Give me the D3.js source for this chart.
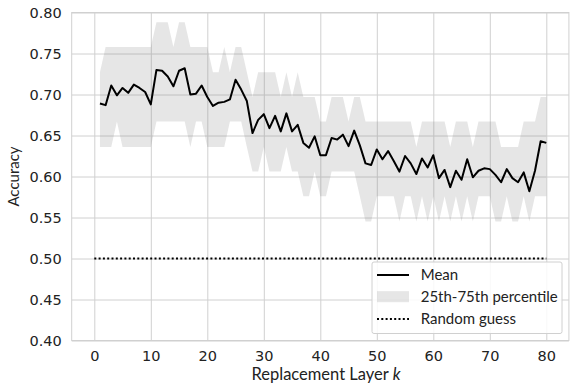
<!DOCTYPE html>
<html>
<head>
<meta charset="utf-8">
<script src="https://cdn.jsdelivr.net/npm/d3@7"></script>
<style>
  body { margin: 0; background: #fff; }
  svg { display: block; }
  .tick text { font-family: "DejaVu Sans", sans-serif; font-size: 14.5px; fill: #222; }
  .lab { font-family: Lato, "Open Sans", sans-serif; font-size: 15px; fill: #222; }
  .xlab { font-size: 16.5px; }
</style>
</head>
<body>
<div id="chart"></div>
<script>
// replacement layer k
var layers = [1,2,3,4,5,6,7,8,9,10,11,12,13,14,15,16,17,18,19,20,
  21,22,23,24,25,26,27,28,29,30,31,32,33,34,35,36,37,38,39,40,
  41,42,43,44,45,46,47,48,49,50,51,52,53,54,55,56,57,58,59,60,
  61,62,63,64,65,66,67,68,69,70,71,72,73,74,75,76,77,78,79,80];

// mean accuracy per layer
var meanAcc = [0.689,0.687,0.711,0.699,0.708,0.702,0.712,0.708,0.703,0.688,
  0.730,0.729,0.722,0.710,0.729,0.732,0.700,0.701,0.711,0.697,
  0.686,0.690,0.691,0.694,0.718,0.706,0.692,0.653,0.669,0.676,
  0.659,0.674,0.655,0.677,0.655,0.663,0.641,0.635,0.649,0.626,
  0.626,0.647,0.645,0.651,0.637,0.656,0.638,0.616,0.614,0.633,
  0.621,0.631,0.619,0.606,0.625,0.616,0.603,0.622,0.611,0.626,
  0.598,0.608,0.587,0.607,0.596,0.621,0.599,0.607,0.610,0.609,
  0.602,0.593,0.609,0.598,0.593,0.605,0.582,0.607,0.643,0.641];

// 25th percentile
var p25 = [0.636,0.636,0.636,0.667,0.636,0.636,0.636,0.636,0.636,0.636,
  0.667,0.667,0.667,0.667,0.667,0.667,0.636,0.667,0.667,0.636,
  0.636,0.636,0.636,0.667,0.667,0.667,0.636,0.606,0.606,0.636,
  0.606,0.606,0.606,0.636,0.606,0.606,0.576,0.576,0.606,0.576,
  0.576,0.606,0.606,0.606,0.606,0.606,0.576,0.545,0.545,0.576,
  0.576,0.576,0.576,0.545,0.576,0.576,0.545,0.576,0.545,0.576,
  0.545,0.576,0.545,0.576,0.545,0.576,0.545,0.576,0.576,0.576,
  0.545,0.545,0.576,0.545,0.545,0.576,0.545,0.576,0.576,0.576];

// 75th percentile
var p75 = [0.727,0.758,0.758,0.758,0.758,0.758,0.758,0.758,0.758,0.758,
  0.788,0.788,0.788,0.758,0.788,0.788,0.758,0.758,0.758,0.758,
  0.727,0.727,0.758,0.727,0.758,0.758,0.727,0.697,0.727,0.727,
  0.727,0.727,0.697,0.727,0.697,0.727,0.697,0.697,0.697,0.667,
  0.667,0.697,0.697,0.697,0.667,0.697,0.697,0.667,0.667,0.667,
  0.667,0.667,0.667,0.667,0.667,0.667,0.636,0.667,0.667,0.667,
  0.667,0.667,0.636,0.667,0.667,0.667,0.636,0.667,0.667,0.667,
  0.667,0.636,0.636,0.636,0.636,0.667,0.667,0.667,0.697,0.697];

// random guess baseline
var guessLayers = [0, 80];
var guessAcc = 0.5;

var xTicks = [0,10,20,30,40,50,60,70,80];
var yTicks = [0.40,0.45,0.50,0.55,0.60,0.65,0.70,0.75,0.80];
var legendLabels = ["Mean", "25th-75th percentile", "Random guess"];

function draw() {
  var W = 570, H = 385;
  var pl = 71.7, pr = 568.9, pt = 12.5, pb = 340.5;

  var svg = d3.select("#chart").append("svg")
      .attr("width", W)
      .attr("height", H);

  var x = d3.scaleLinear().domain([-4, 84]).range([pl, pr]);
  var y = d3.scaleLinear().domain([0.4, 0.8]).range([pb, pt]);

  // grid + tick labels
  svg.append("g")
      .attr("transform", "translate(0," + pb + ")")
      .call(d3.axisBottom(x).tickValues(xTicks).tickFormat(d3.format("d"))
          .tickSizeInner(-(pb - pt)).tickSizeOuter(0).tickPadding(10.5));
  svg.append("g")
      .attr("transform", "translate(" + pl + ",0)")
      .call(d3.axisLeft(y).tickValues(yTicks).tickFormat(d3.format(".2f"))
          .tickSizeInner(-(pr - pl)).tickSizeOuter(0).tickPadding(10));
  svg.selectAll(".domain").remove();
  svg.selectAll(".tick line").attr("stroke", "#d0d0d0").attr("stroke-width", 1);

  // frame
  svg.append("rect")
      .attr("x", pl).attr("y", pt)
      .attr("width", pr - pl).attr("height", pb - pt)
      .attr("fill", "none").attr("stroke", "#d0d0d0").attr("stroke-width", 1);

  // percentile band
  var area = d3.area()
      .x(function(d, i) { return x(layers[i]); })
      .y0(function(d, i) { return y(p25[i]); })
      .y1(function(d, i) { return y(p75[i]); });
  svg.append("path")
      .datum(layers)
      .attr("d", area)
      .attr("fill", "#808080")
      .attr("fill-opacity", 0.2);

  // mean line
  var line = d3.line()
      .x(function(d, i) { return x(layers[i]); })
      .y(function(d) { return y(d); });
  svg.append("path")
      .datum(meanAcc)
      .attr("d", line)
      .attr("fill", "none")
      .attr("stroke", "#000")
      .attr("stroke-width", 2)
      .attr("stroke-linejoin", "round");

  // random guess
  svg.append("line")
      .attr("x1", x(guessLayers[0])).attr("x2", x(guessLayers[1]))
      .attr("y1", y(guessAcc)).attr("y2", y(guessAcc))
      .attr("stroke", "#000")
      .attr("stroke-width", 2)
      .attr("stroke-dasharray", "2,2.3");

  // axis labels
  svg.append("text")
      .attr("class", "lab xlab")
      .attr("x", 326).attr("y", 380)
      .attr("text-anchor", "middle")
      .html('Replacement Layer <tspan font-style="italic">k</tspan>');
  svg.append("text")
      .attr("class", "lab")
      .attr("transform", "translate(19," + ((pt + pb) / 2) + ") rotate(-90)")
      .attr("text-anchor", "middle")
      .text("Accuracy");

  // legend
  var lg = svg.append("g").attr("transform", "translate(372,262)");
  lg.append("rect")
      .attr("width", 190).attr("height", 71.5)
      .attr("rx", 2)
      .attr("fill", "#fff").attr("fill-opacity", 0.85)
      .attr("stroke", "#d0d0d0").attr("stroke-width", 1);
  var rowY = [13, 34.7, 57];
  lg.append("line")
      .attr("x1", 5).attr("x2", 37).attr("y1", rowY[0]).attr("y2", rowY[0])
      .attr("stroke", "#000").attr("stroke-width", 2);
  lg.append("rect")
      .attr("x", 5).attr("y", rowY[1] - 5.5).attr("width", 32).attr("height", 11)
      .attr("fill", "#808080").attr("fill-opacity", 0.2);
  lg.append("line")
      .attr("x1", 5).attr("x2", 37).attr("y1", rowY[2]).attr("y2", rowY[2])
      .attr("stroke", "#000").attr("stroke-width", 2)
      .attr("stroke-dasharray", "2,2.3");
  lg.selectAll("text.item")
      .data(legendLabels)
      .enter()
      .append("text")
      .attr("class", "lab item")
      .attr("x", 48.7)
      .attr("y", function(d, i) { return rowY[i]; })
      .attr("dy", "0.35em")
      .text(function(d) { return d; });
}

draw();
</script>
</body>
</html>
